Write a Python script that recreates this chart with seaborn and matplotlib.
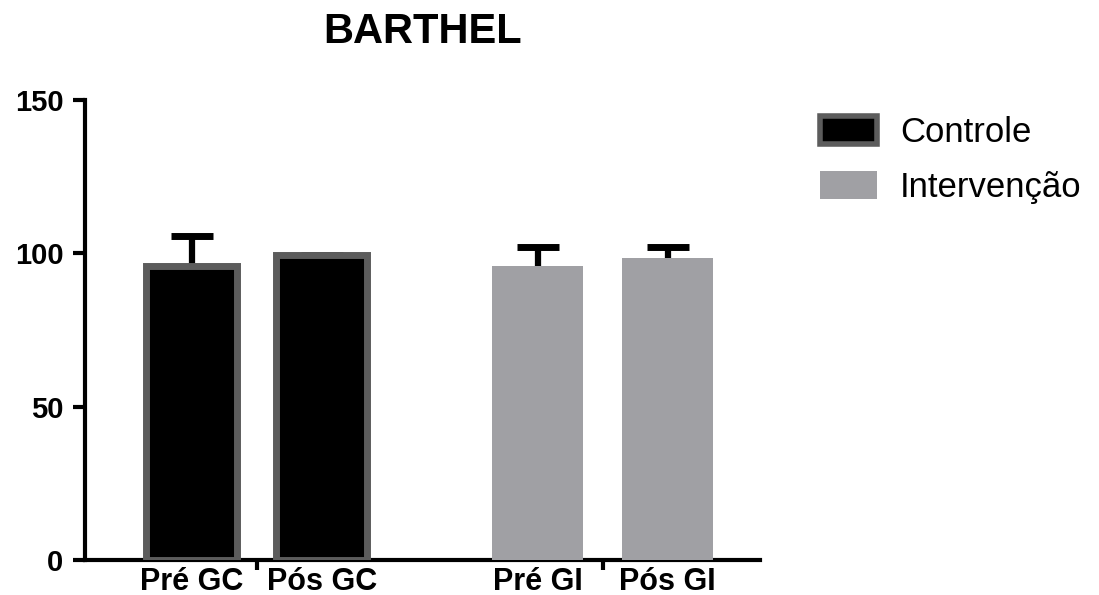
import matplotlib
matplotlib.use("Agg")
import matplotlib.pyplot as plt
import seaborn as sns
import pandas as pd
from matplotlib.patches import Patch

# ==========================
# datos
# ==========================
etiquetas = ["Pré GC", "Pós GC", "Pré GI", "Pós GI"]
grupos = ["Controle", "Controle", "Intervenção", "Intervenção"]
medias = [96.0, 99.3, 96.0, 98.6]
desvios = [9.8, 0.0, 6.2, 3.6]
posiciones = [0.0, 1.0, 2.66, 3.66]

df = pd.DataFrame({"pos": posiciones, "media": medias, "grupo": grupos, "etiqueta": etiquetas})

colores = {"Controle": "#000000", "Intervenção": "#a0a0a4"}
bordes = {"Controle": "#5c5c5c", "Intervenção": "#a0a0a4"}

sns.set_style("white")
plt.rcParams["font.family"] = ["Liberation Sans", "DejaVu Sans"]
plt.rcParams["text.color"] = "black"
plt.rcParams["xtick.color"] = "black"
plt.rcParams["ytick.color"] = "black"

fig = plt.figure(figsize=(10.99, 5.95), dpi=100)
ax = fig.add_axes([0.0773, 0.0588, 0.6142, 0.7732])

sns.barplot(data=df, x="pos", y="media", hue="grupo", palette=colores,
            native_scale=True, dodge=False, width=0.7, legend=False, ax=ax,
            errorbar=None, saturation=1)

# bordes por barra
for patch, g in zip(ax.patches, grupos):
    patch.set_edgecolor(bordes[g])
    patch.set_linewidth(5 if g == "Controle" else 0)
    patch.set_zorder(3)

# barras de error (solo superior)
eb = ax.errorbar(posiciones, medias, yerr=[[0] * len(desvios), desvios], fmt="none",
                 ecolor="black", elinewidth=4.5, capsize=15, capthick=5, zorder=2)
# quitar el cap inferior
eb[1][0].remove()

ax.set_ylim(0, 150)
ax.set_xlim(-0.82, 4.37)
ax.set_yticks([0, 50, 100, 150])
ax.set_yticklabels(["0", "50", "100", "150"], fontsize=21, fontweight="bold")
ax.set_xticks([0.5, 3.16])
ax.set_xticklabels(["", ""])
ax.set_xticks(posiciones, minor=True)
ax.set_xticklabels(etiquetas, minor=True, fontsize=22, fontweight="bold")
ax.tick_params(axis="x", which="minor", bottom=True, length=0, pad=5)
ax.tick_params(axis="x", which="major", bottom=True, length=7.5, width=3, direction="out", color="black")
ax.tick_params(axis="y", left=True, length=8.6, width=3, direction="out", color="black", pad=7)
ax.set_xlabel("")
ax.set_ylabel("")

for lado in ["top", "right"]:
    ax.spines[lado].set_visible(False)
for lado in ["left", "bottom"]:
    ax.spines[lado].set_linewidth(3)
    ax.spines[lado].set_color("black")

ax.set_title("BARTHEL", fontsize=30, fontweight="bold", pad=41, color="black")

leyenda = [Patch(facecolor=colores[g], edgecolor=bordes[g], linewidth=4 if g == "Controle" else 0, label=g)
           for g in ["Controle", "Intervenção"]]
fig.legend(handles=leyenda, loc="upper left", bbox_to_anchor=(820 / 1099, 1 - 116 / 595), frameon=False,
           fontsize=25, handlelength=1.64, handleheight=0.84, handletextpad=0.66, labelspacing=0.63,
           borderpad=0, borderaxespad=0, labelcolor="black")

fig.savefig("out.png", dpi=100)
